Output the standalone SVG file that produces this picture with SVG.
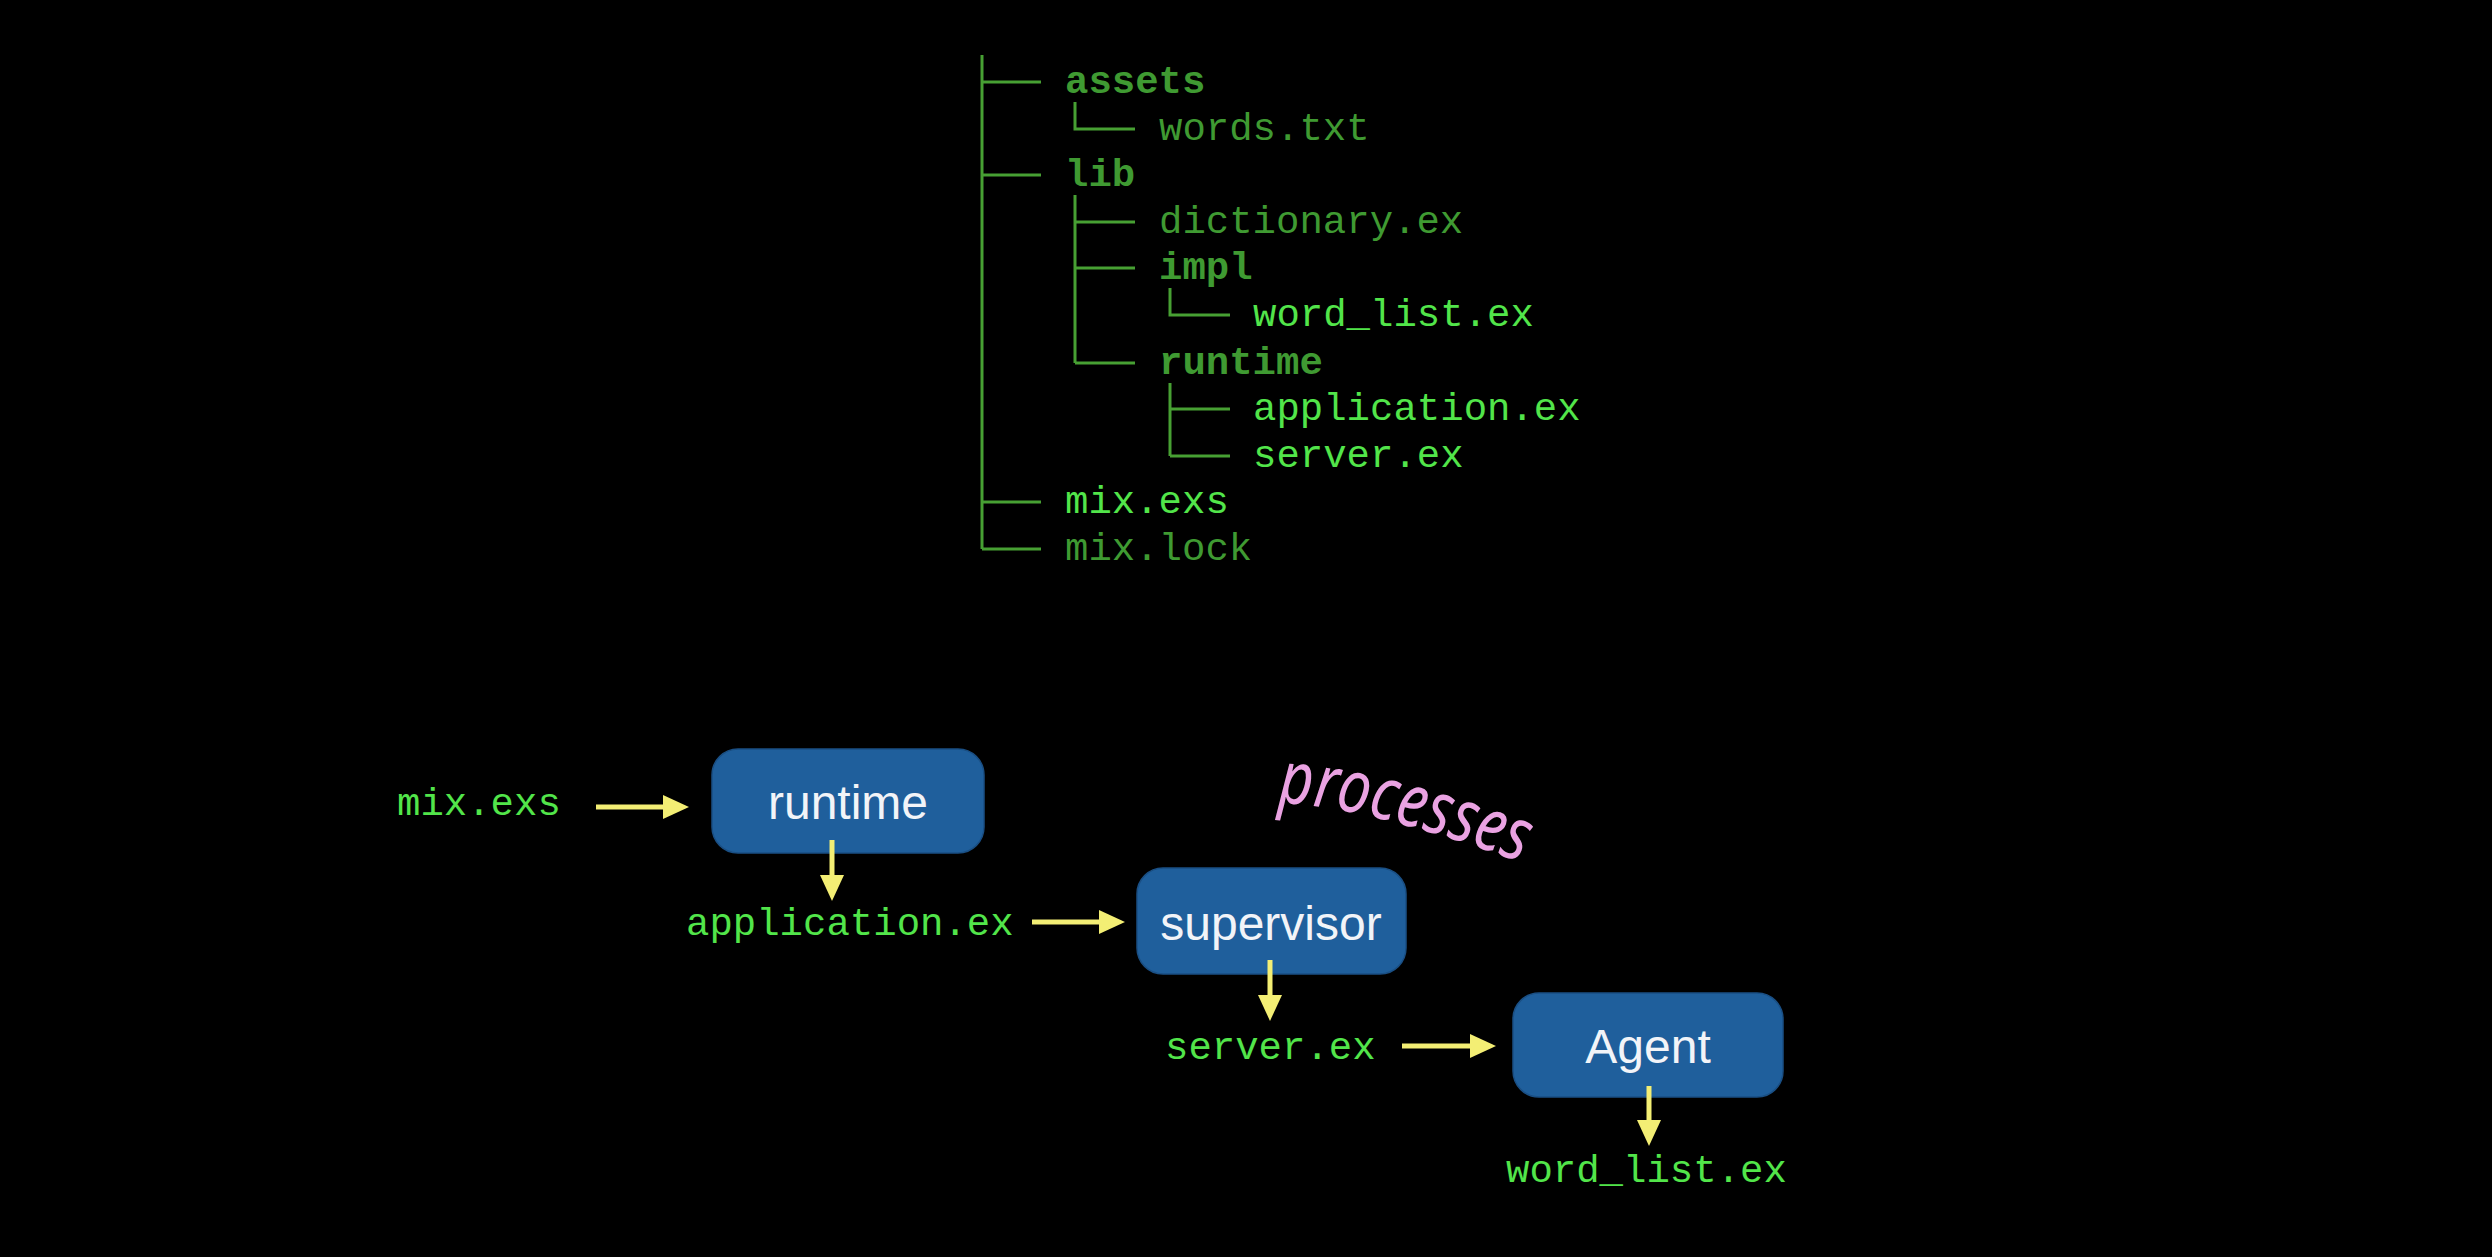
<svg xmlns="http://www.w3.org/2000/svg" width="2492" height="1257" viewBox="0 0 2492 1257">
  <style>
    .mono { font-family: "Liberation Mono", "Courier New", monospace; font-size: 39px; }
    .dark { fill: #3f9a32; }
    .bright { fill: #52e54a; }
    .b { font-weight: bold; }
    .tree { stroke: #47a033; stroke-width: 3; fill: none; }
    .box { fill: #1f5f9c; stroke: #1a4f84; stroke-width: 1.5; }
    .label { font-family: "Liberation Sans", Arial, sans-serif; font-size: 48px; fill: #f2f4f8; text-anchor: middle; }
    .arrow { stroke: #f3ee74; stroke-width: 5; fill: none; marker-end: url(#head); }
    .proc { font-family: "Noto Sans", "DejaVu Sans", sans-serif; font-style: italic; font-size: 74px; fill: #eaa2e2; }
  </style>
  <defs>
    <marker id="head" viewBox="0 0 26 24" markerWidth="26" markerHeight="24" markerUnits="userSpaceOnUse" refX="0" refY="12" orient="auto">
      <path d="M0,0 L26,12 L0,24 z" fill="#f3ee74"/>
    </marker>
    <path id="procPath" d="M1278,803 Q1370,806 1536,868"/>
  </defs>
  <rect x="0" y="0" width="2492" height="1257" fill="#000000"/>

  <g id="tree">
    <g id="tree-lines">
      <path class="tree" d="M982,55 V549 M982,82 H1041 M982,175 H1041 M982,502 H1041 M982,549 H1041"/>
      <path class="tree" d="M1075,102 V129 H1135"/>
      <path class="tree" d="M1075,195 V363 M1075,222 H1135 M1075,268 H1135 M1075,363 H1135"/>
      <path class="tree" d="M1170,288 V315 H1230"/>
      <path class="tree" d="M1170,383 V456 M1170,409 H1230 M1170,456 H1230"/>
    </g>
    <g id="tree-texts" class="mono">
      <text id="t-assets" class="dark b" x="1065" y="93">assets</text>
      <text id="t-words" class="dark" x="1159" y="140">words.txt</text>
      <text id="t-lib" class="dark b" x="1065" y="186">lib</text>
      <text id="t-dictionary" class="dark" x="1159" y="233">dictionary.ex</text>
      <text id="t-impl" class="dark b" x="1159" y="279">impl</text>
      <text id="t-wordlist" class="bright" x="1253" y="326">word_list.ex</text>
      <text id="t-runtime" class="dark b" x="1159" y="374">runtime</text>
      <text id="t-application" class="bright" x="1253" y="420">application.ex</text>
      <text id="t-server" class="bright" x="1253" y="467">server.ex</text>
      <text id="t-mixexs" class="bright" x="1065" y="513">mix.exs</text>
      <text id="t-mixlock" class="dark" x="1065" y="560">mix.lock</text>
    </g>
  </g>

  <g id="node-mixexs"><text class="mono bright" x="397" y="815">mix.exs</text></g>
  <g id="node-runtime">
    <rect class="box" x="712" y="749" width="272" height="104" rx="26" ry="26"/>
    <text class="label" x="848" y="819">runtime</text>
  </g>
  <g id="node-application"><text class="mono bright" x="686" y="935">application.ex</text></g>
  <g id="node-supervisor">
    <rect class="box" x="1137" y="868" width="269" height="106" rx="26" ry="26"/>
    <text class="label" x="1271" y="940">supervisor</text>
  </g>
  <g id="node-server"><text class="mono bright" x="1165" y="1059">server.ex</text></g>
  <g id="node-agent">
    <rect class="box" x="1513" y="993" width="270" height="104" rx="26" ry="26"/>
    <text class="label" x="1648" y="1063">Agent</text>
  </g>
  <g id="node-wordlist"><text class="mono bright" x="1506" y="1182">word_list.ex</text></g>

  <g id="note-processes">
    <text class="proc"><textPath href="#procPath" textLength="252" lengthAdjust="spacingAndGlyphs">processes</textPath></text>
  </g>

  <g id="connectors">
    <line class="arrow" x1="596" y1="807" x2="663" y2="807"/>
    <line class="arrow" x1="832" y1="840" x2="832" y2="875"/>
    <line class="arrow" x1="1032" y1="922" x2="1099" y2="922"/>
    <line class="arrow" x1="1270" y1="960" x2="1270" y2="995"/>
    <line class="arrow" x1="1402" y1="1046" x2="1470" y2="1046"/>
    <line class="arrow" x1="1649" y1="1086" x2="1649" y2="1120"/>
  </g>
</svg>
